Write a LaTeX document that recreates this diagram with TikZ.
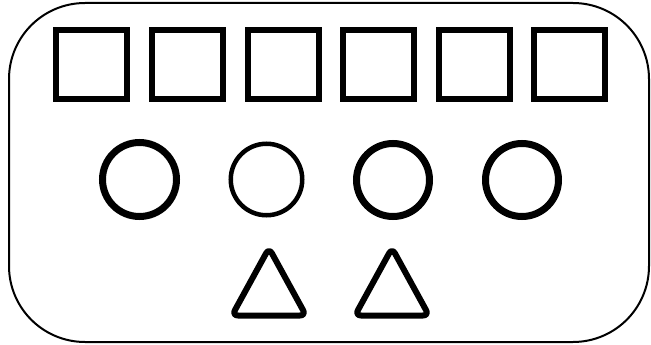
\documentclass[tikz,border=0pt]{standalone}
\begin{document}
\begin{tikzpicture}[x=1pt,y=-1pt,
  frame/.style={draw=black,line width=2pt,rounded corners=76pt},
  sq/.style={draw=black,line width=6pt,rectangle,inner sep=0pt,minimum width=71pt,minimum height=69pt},
  ring/.style={draw=black,circle,inner sep=0pt},
  tri/.style={draw=black,line width=6pt,rounded corners=6pt,line join=round}]
\useasboundingbox (0,0) rectangle (651,345);
\fill[white] (0,0) rectangle (651,345);
\draw[frame] (9,3) rectangle (649,342);
\foreach \i/\x in {1/91.5,2/187.5,3/283.5,4/378.5,5/474,6/569.5}
  \node[sq] (s\i) at (\x,64.5) {};
\node[ring,line width=7pt,minimum size=74pt] (c1) at (139.5,179.5) {};
\node[ring,line width=4.5pt,minimum size=71.5pt] (c2) at (266.5,179.5) {};
\node[ring,line width=7pt,minimum size=73pt] (c3) at (393,180) {};
\node[ring,line width=7pt,minimum size=73pt] (c4) at (522,180) {};
\coordinate (t1a) at (269,248);
\coordinate (t1b) at (232,315.5);
\coordinate (t1c) at (306,315.5);
\coordinate (t2a) at (392,248);
\coordinate (t2b) at (355,315.5);
\coordinate (t2c) at (429,315.5);
\draw[tri] (t1a) -- (t1c) -- (t1b) -- cycle;
\draw[tri] (t2a) -- (t2c) -- (t2b) -- cycle;
\end{tikzpicture}
\end{document}
